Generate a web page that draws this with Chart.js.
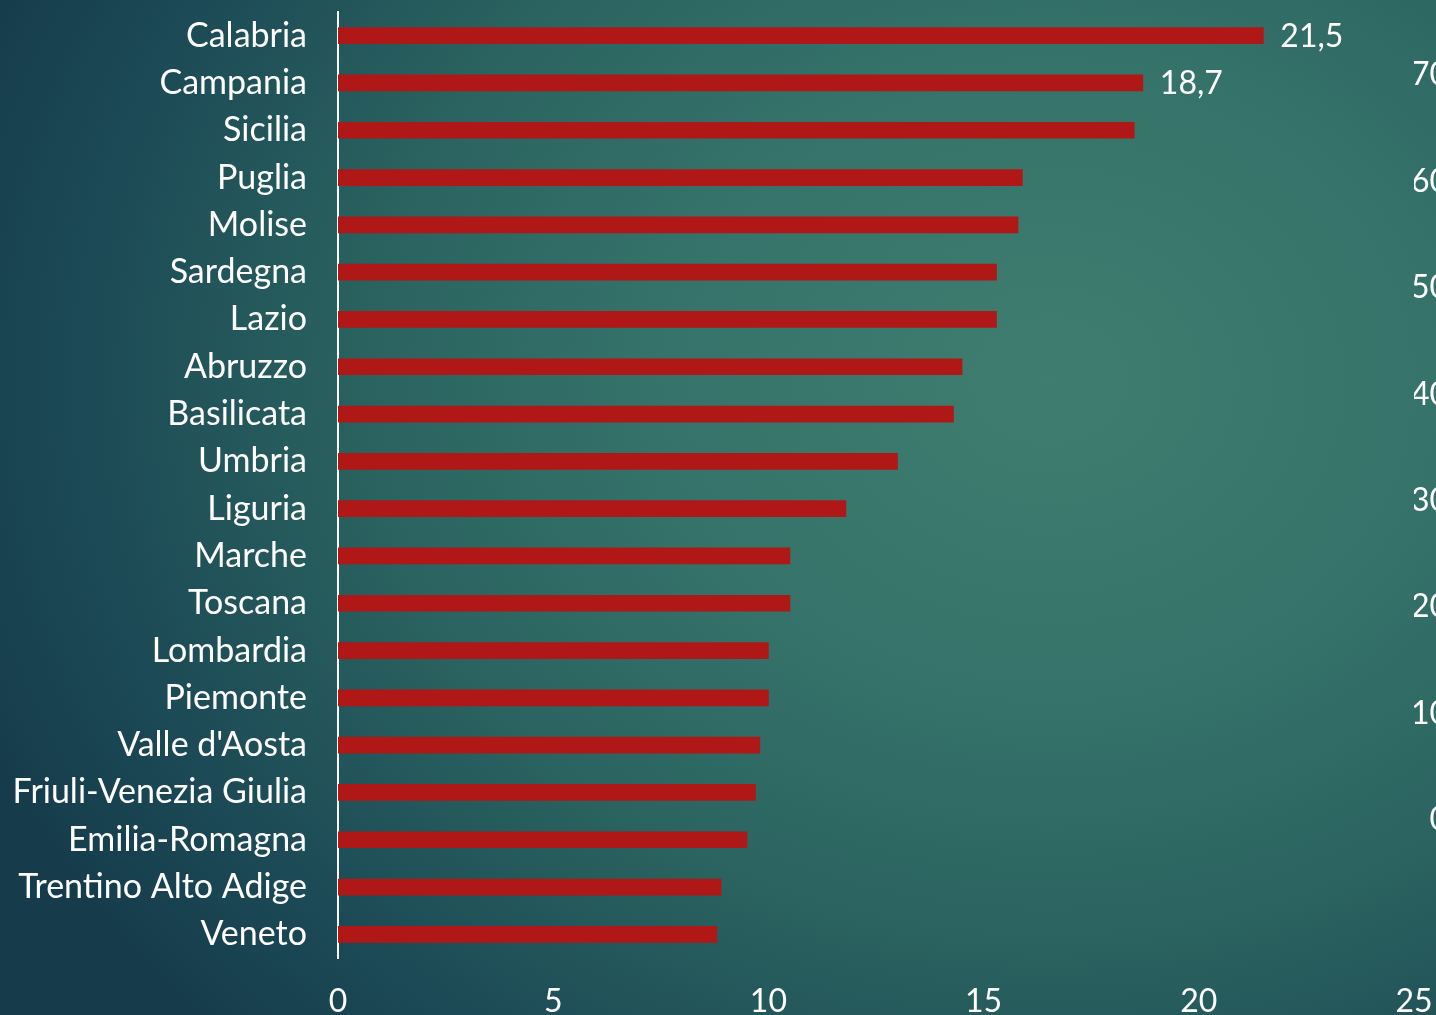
<!DOCTYPE html>
<html>
<head>
<meta charset="utf-8">
<script src="https://cdn.jsdelivr.net/npm/chart.js@4/dist/chart.umd.min.js"></script>
<style>
  html, body { margin: 0; padding: 0; width: 1436px; height: 1015px; overflow: hidden; }
  body {
    background: radial-gradient(ellipse 1150px 950px at 1050px 380px,
      #3f7d70 0%, #36746b 32%, #2a625f 60%, #1c4a56 84%, #163c4c 100%);
  }
  #wrap { position: absolute; left: 0; top: 0; width: 1460px; height: 1015px; }
</style>
</head>
<body>
<div id="wrap"><canvas id="chart"></canvas></div>
<script>
// Regions, sorted from highest to lowest
const regions = [
  "Calabria", "Campania", "Sicilia", "Puglia", "Molise", "Sardegna", "Lazio",
  "Abruzzo", "Basilicata", "Umbria", "Liguria", "Marche", "Toscana", "Lombardia",
  "Piemonte", "Valle d'Aosta", "Friuli-Venezia Giulia", "Emilia-Romagna",
  "Trentino Alto Adige", "Veneto"
];
const values = [
  21.5, 18.7, 18.5, 15.9, 15.8, 15.3, 15.3,
  14.5, 14.3, 13.0, 11.8, 10.5, 10.5, 10.0,
  10.0, 9.8, 9.7, 9.5, 8.9, 8.8
];
// Only the first two bars carry a value label
const valueLabels = ["21,5", "18,7"];
const xTicks = [0, 5, 10, 15, 20, 25];
// Leftover axis at the right edge (cut off by the page)
const rightTicks = [0, 10, 20, 30, 40, 50, 60, 70];

const FONT = "Lato, 'DejaVu Sans', sans-serif";

// no extra padding from tick labels, the layout is fixed by hand
const noPad = (scale) => {
  scale.paddingTop = 0;
  scale.paddingBottom = 0;
  scale.paddingLeft = 0;
  scale.paddingRight = 0;
};

const valueLabelPlugin = {
  id: "valueLabels",
  afterDatasetsDraw(chart) {
    const ctx = chart.ctx;
    const bars = chart.getDatasetMeta(0).data;
    ctx.save();
    ctx.fillStyle = "#ffffff";
    ctx.font = "32px " + FONT;
    ctx.textAlign = "left";
    ctx.textBaseline = "middle";
    valueLabels.forEach((txt, i) => {
      const bar = bars[i];
      ctx.fillText(txt, bar.x + 17, bar.y + 1);
    });
    ctx.restore();
  }
};

const ctx = document.getElementById("chart").getContext("2d");
new Chart(ctx, {
  type: "bar",
  data: {
    labels: regions,
    datasets: [
      {
        data: values,
        backgroundColor: "#b01717",
        barThickness: 16,
        xAxisID: "x",
        yAxisID: "y",
      },
    ],
  },
  options: {
    indexAxis: "y",
    responsive: true,
    maintainAspectRatio: false,
    animation: false,
    layout: { padding: { top: 12, right: 12, bottom: 0, left: 0 } },
    plugins: {
      legend: { display: false },
      tooltip: { enabled: false },
    },
    scales: {
      x: {
        type: "linear",
        min: 0,
        max: 25,
        afterBuildTicks: (scale) => { scale.ticks = xTicks.map((v) => ({ value: v })); },
        afterFit: (scale) => { scale.height = 57; noPad(scale); },
        grid: { display: false, drawTicks: false },
        border: { display: false },
        ticks: { color: "#ffffff", font: { family: FONT, size: 32 }, padding: 24, maxRotation: 0 },
      },
      y: {
        afterFit: (scale) => { scale.width = 338; noPad(scale); },
        grid: { display: false, drawTicks: false },
        border: { display: true, color: "#ffffff", width: 2 },
        ticks: { color: "#ffffff", font: { family: FONT, size: 34 }, padding: 31, autoSkip: false },
      },
      y2: {
        type: "linear",
        position: "right",
        offset: false,
        min: -12.97,
        max: 75.92,
        afterBuildTicks: (scale) => { scale.ticks = rightTicks.map((v) => ({ value: v })); },
        afterFit: (scale) => { scale.width = 34; noPad(scale); },
        grid: { display: false, drawTicks: false, offset: false },
        border: { display: false },
        ticks: { color: "#ffffff", font: { family: FONT, size: 32 }, padding: 0, crossAlign: "far" },
      },
    },
  },
  plugins: [valueLabelPlugin],
});
</script>
</body>
</html>
